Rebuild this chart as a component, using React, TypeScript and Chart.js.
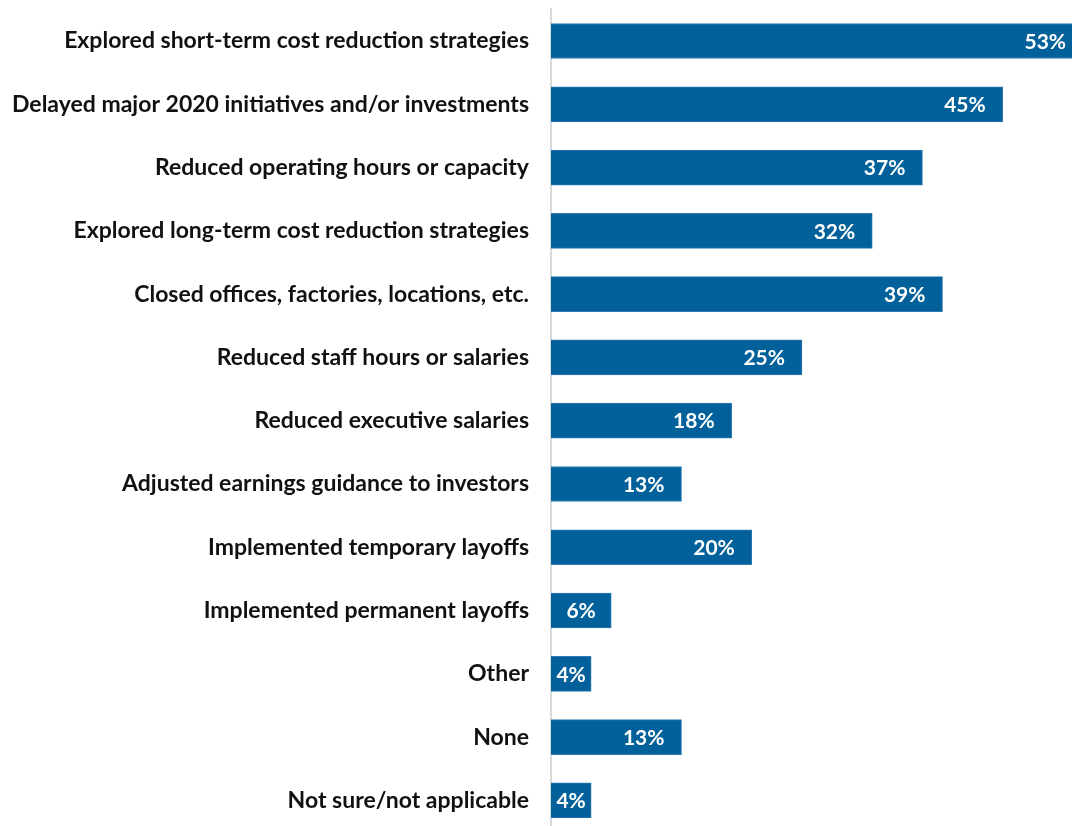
import React, { useEffect, useRef } from "react";
import { Chart, registerables } from "chart.js";

Chart.register(...registerables);

const categories = [
  "Explored short-term cost reduction strategies",
  "Delayed major 2020 initiatives and/or investments",
  "Reduced operating hours or capacity",
  "Explored long-term cost reduction strategies",
  "Closed offices, factories, locations, etc.",
  "Reduced staff hours or salaries",
  "Reduced executive salaries",
  "Adjusted earnings guidance to investors",
  "Implemented temporary layoffs",
  "Implemented permanent layoffs",
  "Other",
  "None",
  "Not sure/not applicable",
];

const values = [53, 45, 37, 32, 39, 25, 18, 13, 20, 6, 4, 13, 4];

const BAR_COLOR = "#02619a";
const FONT = "Lato, 'Open Sans', sans-serif";

const valueLabels = {
  id: "valueLabels",
  afterDatasetsDraw(chart: any) {
    const ctx = chart.ctx;
    const meta = chart.getDatasetMeta(0);
    ctx.save();
    ctx.font = `bold 21px ${FONT}`;
    ctx.fillStyle = "#ffffff";
    ctx.textAlign = "center";
    ctx.textBaseline = "middle";
    meta.data.forEach((bar: any, i: number) => {
      const text = `${values[i]}%`;
      const w = ctx.measureText(text).width;
      const start = bar.base;
      const end = bar.x;
      const center = (start + end) / 2;
      const cx = Math.max(center, end - 17 - w / 2);
      ctx.fillText(text, cx, bar.y + 1);
    });
    ctx.restore();
  },
};

export default function App() {
  const ref = useRef<HTMLCanvasElement | null>(null);

  useEffect(() => {
    if (!ref.current) return;
    const chart = new Chart(ref.current, {
      type: "bar",
      data: {
        labels: categories,
        datasets: [
          {
            data: values,
            backgroundColor: BAR_COLOR,
            borderColor: "#2f7bb0",
            borderWidth: 1,
            barThickness: 35,
          },
        ],
      },
      options: {
        indexAxis: "y",
        animation: false,
        responsive: false,
        maintainAspectRatio: false,
        layout: { padding: { top: 9.4, right: 0, bottom: 0, left: 0 } },
        plugins: {
          legend: { display: false },
          tooltip: { enabled: false },
        },
        scales: {
          x: {
            display: false,
            min: 0,
            max: 51.9,
          },
          y: {
            afterFit(scale: any) {
              scale.width = 551;
              scale.paddingTop = 0;
              scale.paddingBottom = 0;
            },
            grid: { display: false, drawTicks: false },
            border: { display: true, color: "#d9d9d9", width: 2 },
            ticks: {
              padding: 22,
              color: "#111111",
              font: { family: FONT, size: 23, weight: "bold" },
            },
          },
        },
      },
      plugins: [valueLabels],
    });
    return () => chart.destroy();
  }, []);

  return (
    <div
      style={{
        position: "fixed",
        left: 0,
        top: 0,
        width: 1072,
        height: 826,
        overflow: "hidden",
        background: "#ffffff",
      }}
    >
      <canvas ref={ref} width={1072} height={832} style={{ display: "block" }} />
    </div>
  );
}
